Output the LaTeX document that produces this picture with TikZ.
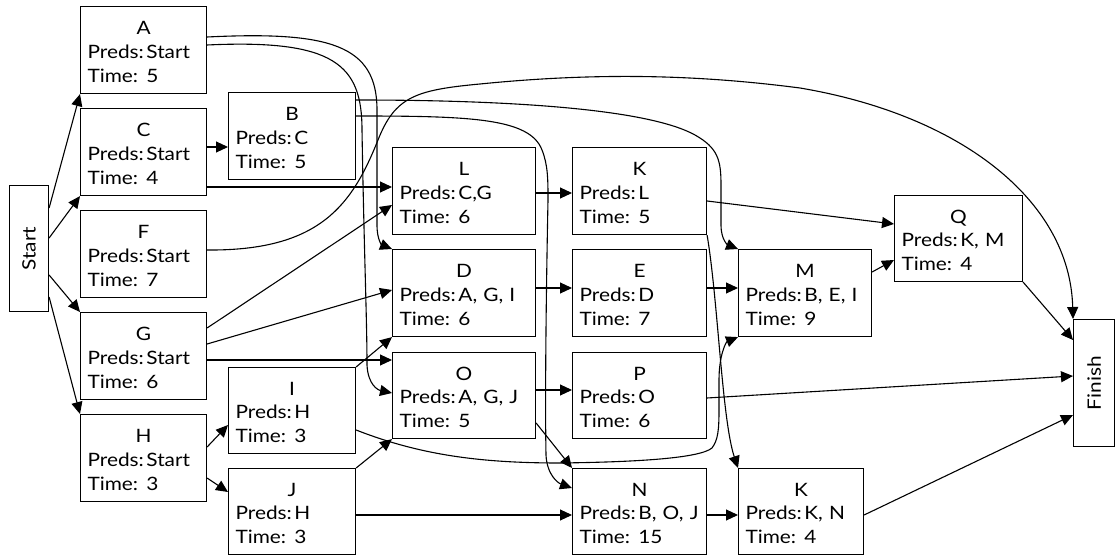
\documentclass[tikz,border=0pt]{standalone}
\usepackage{fontspec}
\setmainfont{Lato}[FakeStretch=1.13]
\usetikzlibrary{arrows.meta,calc}
\newlength\predw
\newcommand\pbtext[3]{\makebox[\hsize]{\rule{0pt}{17bp}#1}\\\settowidth\predw{Preds:\hspace{2.5bp}}\mbox{Preds:\hspace{2.5bp}#2}\\\makebox[\predw][l]{Time:}#3}
\begin{document}
\begin{tikzpicture}[x=1bp,y=-1bp,
  pbox/.style={draw, rectangle, anchor=north west, inner xsep=7bp, inner ysep=0pt,
    text width=#1, minimum height=87bp, align=left,
    font=\fontsize{18.5}{24}\selectfont, line width=1.1bp},
  ebox/.style={draw, rectangle, anchor=north west, inner sep=0pt,
    font=\fontsize{18.5}{24}\selectfont, line width=1.1bp},
  conn/.style={line width=1.1bp, -{Triangle[length=12bp,width=11bp]}}]
\useasboundingbox (0,0) rectangle (1118,555);
% nodes
\node[ebox, minimum width=39bp, minimum height=126bp] (Start) at (9,185) {\rotatebox{90}{Start}};
\node[ebox, minimum width=41bp, minimum height=127bp] (Finish) at (1073,319) {\rotatebox{90}{Finish}};
\node[pbox=112bp] (A) at (80,6)   {\pbtext{A}{Start}{5}};
\node[pbox=112bp] (C) at (80,108) {\pbtext{C}{Start}{4}};
\node[pbox=112bp] (F) at (80,210) {\pbtext{F}{Start}{7}};
\node[pbox=112bp] (G) at (80,312) {\pbtext{G}{Start}{6}};
\node[pbox=112bp] (H) at (80,414) {\pbtext{H}{Start}{3}};
\node[pbox=113bp] (B) at (228,92)  {\pbtext{B}{C}{5}};
\node[pbox=113bp, minimum height=86bp] (I) at (228,367) {\pbtext{I}{H}{3}};
\node[pbox=113bp, minimum height=86bp] (J) at (228,468) {\pbtext{J}{H}{3}};
\node[pbox=129bp] (L) at (392,147) {\pbtext{L}{C,G}{6}};
\node[pbox=129bp] (D) at (392,249) {\pbtext{D}{A, G, I}{6}};
\node[pbox=129bp, minimum height=86bp] (O) at (392,352) {\pbtext{O}{A, G, J}{5}};
\node[pbox=120bp] (K) at (572,147) {\pbtext{K}{L}{5}};
\node[pbox=120bp] (E) at (572,249) {\pbtext{E}{D}{7}};
\node[pbox=120bp, minimum height=86bp] (P) at (572,352) {\pbtext{P}{O}{6}};
\node[pbox=120bp, minimum height=86bp] (N) at (572,468) {\pbtext{N}{B, O, J}{15}};
\node[pbox=119bp] (M) at (738,249) {\pbtext{M}{B, E, I}{9}};
\node[pbox=111bp, minimum height=86bp] (K2) at (738,468) {\pbtext{K}{K, N}{4}};
\node[pbox=114bp, minimum height=86bp] (Q) at (894,195) {\pbtext{Q}{K, M}{4}};
% straight connectors
\draw[conn] ($(Start.north east)+(0,23)$) -- (A.south west);
\draw[conn] ($(Start.north east)+(0,53)$) -- (C.south west);
\draw[conn] ($(Start.north east)+(0,90)$) -- (G.north west);
\draw[conn] ($(Start.north east)+(0,112)$) -- (H.north west);
\draw[conn] ($(C.north east)+(0,39)$) -- ($(B.north west)+(0,55)$);
\draw[conn] ($(C.north east)+(0,79)$) -- ($(L.north west)+(0,40)$);
\draw[conn] ($(L.north east)+(0,46)$) -- ($(K.north west)+(0,46)$);
\draw[conn] ($(G.north east)+(0,16)$) -- ($(L.north west)+(0,58)$);
\draw[conn] ($(G.north east)+(0,32)$) -- ($(D.north west)+(0,41)$);
\draw[conn] ($(G.north east)+(0,48)$) -- ($(O.north west)+(0,8)$);
\draw[conn] ($(H.north east)+(0,33)$) -- ($(I.north west)+(0,58)$);
\draw[conn] ($(H.north east)+(0,64)$) -- ($(J.north west)+(0,24)$);
\draw[conn] (I.north east) -- (D.south west);
\draw[conn] (J.north east) -- (O.south west);
\draw[conn] ($(J.north east)+(0,47)$) -- ($(N.north west)+(0,47)$);
\draw[conn] ($(D.north east)+(0,39)$) -- ($(E.north west)+(0,39)$);
\draw[conn] ($(E.north east)+(0,39)$) -- ($(M.north west)+(0,39)$);
\draw[conn] ($(O.north east)+(0,38)$) -- ($(P.north west)+(0,38)$);
\draw[conn] ($(O.north east)+(0,71)$) -- (N.north west);
\draw[conn] ($(P.north east)+(0,46)$) -- ($(Finish.north west)+(0,57)$);
\draw[conn] ($(K.north east)+(0,54)$) -- ($(Q.north west)+(0,29)$);
\draw[conn] ($(M.north east)+(0,23)$) -- ($(Q.north west)+(0,65)$);
\draw[conn] (Q.south east) -- ($(Finish.north west)+(0,21)$);
\draw[conn] ($(N.north east)+(0,47)$) -- ($(K2.north west)+(0,47)$);
\draw[conn] ($(K2.north east)+(0,47)$) -- ($(Finish.north west)+(0,96)$);
% curved connectors
\draw[conn] ($(A.north east)+(0,31)$) .. controls (330,31) and (377,45) .. (377,110)
  -- (377,225) .. controls (377,240) and (382,245) .. (D.north west);
\draw[conn] ($(A.north east)+(0,39)$) .. controls (335,39) and (362,65) .. (362,130)
  .. controls (364,250) and (367,320) .. (367,365) .. controls (368,385) and (378,390) .. ($(O.north west)+(0,41)$);
\draw[conn] ($(F.north east)+(0,40)$) .. controls (320,251) and (352,205) .. (378,140)
  .. controls (395,97) and (415,90) .. (480,84)
  .. controls (600,72) and (700,75) .. (800,88)
  .. controls (960,115) and (1070,200) .. (Finish.north west);
\draw[conn] ($(B.north east)+(0,8)$) .. controls (520,100) and (650,110) .. (695,135)
  .. controls (718,148) and (721,160) .. (721,185) -- (721,225)
  .. controls (721,240) and (728,245) .. (M.north west);
\draw[conn] ($(B.north east)+(0,24)$) .. controls (470,116) and (530,118) .. (542,150)
  .. controls (548,165) and (548,180) .. (548,200) .. controls (546,300) and (545,400) .. (546,455)
  .. controls (547,475) and (558,483) .. ($(N.north west)+(0,20)$);
\draw[conn] ($(I.north east)+(0,63)$) .. controls (420,455) and (480,463) .. (560,463)
  .. controls (640,462) and (700,458) .. (712,448) .. controls (718,440) and (719,430) .. (719,410)
  -- (719,380) .. controls (719,355) and (726,342) .. (M.south west);
\draw[conn] (K.south east) .. controls (718,300) and (722,420) .. (K2.north west);
\end{tikzpicture}
\end{document}
